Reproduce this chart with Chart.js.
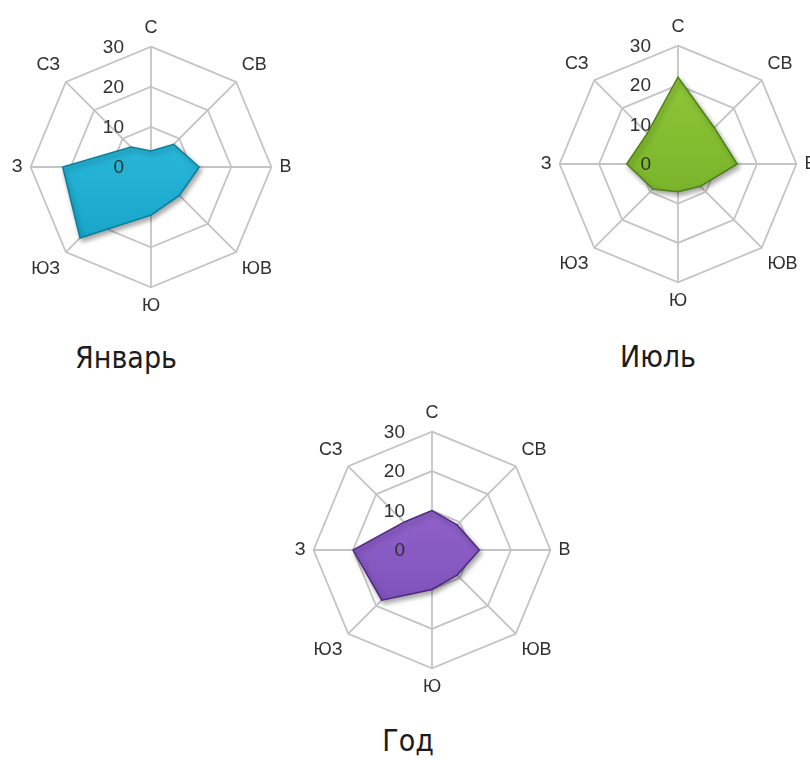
<!DOCTYPE html>
<html>
<head>
<meta charset="utf-8">
<script src="https://cdn.jsdelivr.net/npm/chart.js@4.4.1/dist/chart.umd.min.js"></script>
<style>
  body { margin: 0; background: #fff; width: 810px; height: 760px; overflow: hidden; position: relative; }
  .box { position: absolute; }
  .title { position: absolute; width: 200px; text-align: center; font-family: "Liberation Sans Narrow", "DejaVu Sans Condensed", sans-serif; font-size: 30px; line-height: 30px; color: #1c1c1c; }
</style>
</head>
<body>
<div class="box" style="left:2px; top:18px;"><canvas id="janChart" width="300" height="300"></canvas></div>
<div class="box" style="left:531px; top:17px;"><canvas id="julChart" width="296" height="296"></canvas></div>
<div class="box" style="left:285px; top:403px;"><canvas id="yearChart" width="296" height="296"></canvas></div>
<div class="title" style="left:26px; top:343px;">Январь</div>
<div class="title" style="left:558px; top:342px;">Июль</div>
<div class="title" style="left:308px; top:726px;">Год</div>
<script>
// wind directions, clockwise from north
const directions = ["С", "СВ", "В", "ЮВ", "Ю", "ЮЗ", "З", "СЗ"];

// frequency of wind direction, %
const januaryValues = [4, 8, 12, 10, 12, 25, 22, 7];
const julyValues = [22, 13, 15, 8, 7, 9, 13, 11];
const yearValues = [10, 9, 12, 9, 10, 18, 20, 10];

const scaleMin = 0;
const scaleMax = 30;
const scaleStep = 10;

const gridColor = "#c4c4c4";
const textColor = "#303030";

// ticks are drawn over the filled area, to the left of the north axis
const tickAndShadowPlugin = {
    id: "tickAndShadow",
    beforeDatasetsDraw(chart) {
        const c = chart.ctx;
        c.save();
        c.shadowColor = "rgba(0,0,0,0.35)";
        c.shadowBlur = 5;
        c.shadowOffsetX = 2;
        c.shadowOffsetY = 3;
    },
    afterDatasetsDraw(chart) {
        const c = chart.ctx;
        c.restore();
        const scale = chart.scales.r;
        c.save();
        c.font = "19px 'Liberation Sans', sans-serif";
        c.fillStyle = textColor;
        c.textAlign = "right";
        c.textBaseline = "middle";
        scale.ticks.forEach(function (t) {
            const y = scale.yCenter - scale.getDistanceFromCenterForValue(t.value);
            c.fillText(t.label, scale.xCenter - 27, y + 1);
        });
        c.restore();
    }
};

function makeFill(light, dark, fallback) {
    return function (context) {
        const chart = context.chart;
        const scale = chart.scales.r;
        if (!scale || !scale.drawingArea) {
            return fallback;
        }
        const g = chart.ctx.createLinearGradient(0, scale.yCenter - scale.drawingArea, 0, scale.yCenter + scale.drawingArea);
        g.addColorStop(0, light);
        g.addColorStop(1, dark);
        return g;
    };
}

function radarChart(canvasId, values, light, dark, border) {
    const ctx = document.getElementById(canvasId).getContext("2d");
    return new Chart(ctx, {
        type: "radar",
        data: {
            labels: directions,
            datasets: [{
                data: values,
                backgroundColor: makeFill(light, dark, light),
                borderColor: border,
                borderWidth: 1.5,
                pointRadius: 0,
                fill: "start"
            }]
        },
        options: {
            responsive: false,
            animation: false,
            plugins: {
                legend: { display: false },
                tooltip: { enabled: false }
            },
            scales: {
                r: {
                    min: scaleMin,
                    max: scaleMax,
                    ticks: { stepSize: scaleStep, display: false },
                    grid: { color: gridColor, lineWidth: 1.8 },
                    angleLines: { color: gridColor, lineWidth: 1.8 },
                    pointLabels: {
                        padding: 8,
                        color: textColor,
                        font: { size: 18, family: "'Liberation Sans', sans-serif" }
                    }
                }
            }
        },
        plugins: [tickAndShadowPlugin]
    });
}

radarChart("janChart", januaryValues, "#3cc8e6", "#0d9ec4", "#0b7d9a");
radarChart("julChart", julyValues, "#93cc3a", "#6aa522", "#4f7f18");
radarChart("yearChart", yearValues, "#9d6fd6", "#7446b0", "#4d2a80");
</script>
</body>
</html>
